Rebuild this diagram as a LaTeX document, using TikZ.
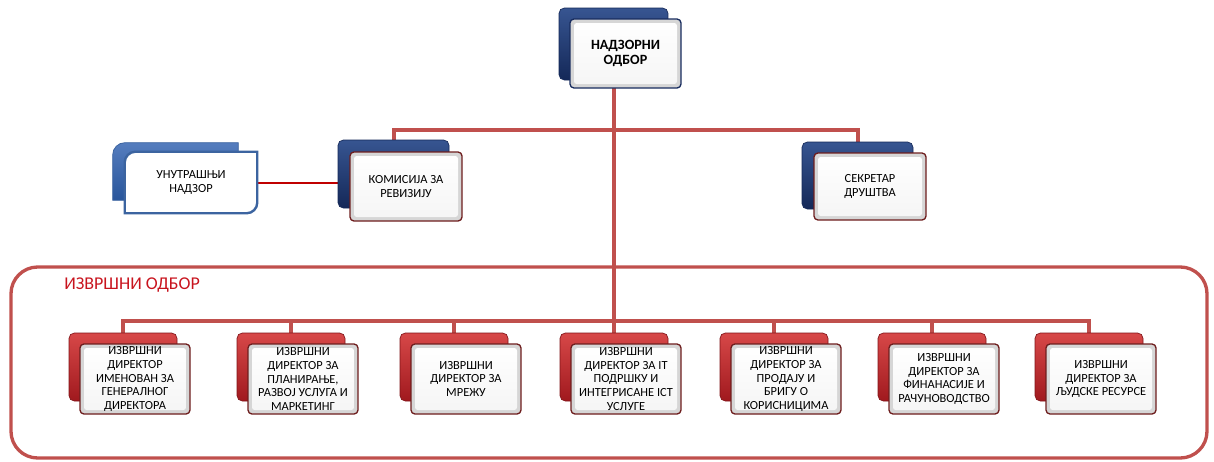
\documentclass[tikz,border=0pt]{standalone}
\usepackage{fontspec}
\setmainfont{Carlito}
\usetikzlibrary{calc,backgrounds}
\definecolor{linered}{RGB}{192,80,77}
\definecolor{darkline}{RGB}{192,0,0}
\definecolor{txtred}{RGB}{200,20,30}
\definecolor{navyA}{RGB}{55,85,145}
\definecolor{navyB}{RGB}{20,40,88}
\definecolor{redA}{RGB}{215,72,72}
\definecolor{redB}{RGB}{160,25,30}
\definecolor{frameRed}{RGB}{110,30,30}
\definecolor{frameNavy}{RGB}{25,45,95}
\definecolor{unBlueA}{RGB}{85,125,190}
\definecolor{unBlueB}{RGB}{40,85,155}
\definecolor{unBorder}{RGB}{60,100,160}
\newcommand\diagshape[3]{%
  \path[#2] let \p1=(#1.north west), \p2=(#1.south east) in
    (\x1,\y2) -- (\x1,\y1-#3) arc[start angle=180,end angle=90,radius=#3]
    -- (\x2,\y1) -- (\x2,\y2+#3) arc[start angle=0,end angle=-90,radius=#3] -- cycle;}
\begin{document}
\begin{tikzpicture}[x=0.75pt,y=-0.75pt,
  backnavy/.style={draw=navyB, line width=0.5pt, rounded corners=4pt, top color=navyA, bottom color=navyB, inner sep=0pt},
  backred/.style={draw=redB!80!black, line width=0.5pt, rounded corners=4pt, top color=redA, bottom color=redB, inner sep=0pt},
  bevel/.style={fill=gray!32, rounded corners=3pt, line width=1pt, inner sep=0pt, align=center,
    path picture={\shade[top color=white, bottom color=gray!8, rounded corners=2pt]
      ([shift={(3pt,-3pt)}]path picture bounding box.north west) rectangle
      ([shift={(-3pt,3pt)}]path picture bounding box.south east);}},
  frontnavy/.style={bevel, draw=frameNavy},
  frontred/.style={bevel, draw=frameRed},
  conn/.style={draw=linered, line width=3pt},
  smalltxt/.style={font=\fontsize{9.3}{10.4}\selectfont},
  midtxt/.style={font=\fontsize{9.3}{10}\selectfont},
  toptxt/.style={font=\bfseries\fontsize{10.6}{11.8}\selectfont},
  bsize/.style={minimum width=81pt, minimum height=51pt},
  fsize/.style={minimum width=82.5pt, minimum height=52.5pt}
]
\useasboundingbox (0,0) rectangle (1214,461);

% executive board frame
\node[draw=linered, line width=2.5pt, rounded corners=20pt, minimum width=897pt, minimum height=143.25pt, inner sep=0pt] (exec) at (609,362.5) {};
\node[anchor=west, text=txtred, font=\fontsize{13.5}{15}\selectfont, inner sep=0pt] (execlabel) at (64,285) {ИЗВРШНИ ОДБОР};

% top
\node[backnavy, minimum width=81.75pt, minimum height=54pt] (topB) at (613.5,44) {};
\node[frontnavy, toptxt, minimum width=83.25pt, minimum height=51.75pt] (topF) at (625.5,53.5) {НАДЗОРНИ\\ОДБОР};

% second level
\node[backnavy, minimum width=83.25pt, minimum height=51pt] (komB) at (393.5,174) {};
\node[frontred, midtxt, minimum width=84pt, minimum height=51.75pt] (komF) at (406,186.5) {КОМИСИЈА ЗА\\РЕВИЗИЈУ};
\node[backnavy, minimum width=83.25pt, minimum height=50.25pt] (sekB) at (857.5,175.5) {};
\node[frontred, midtxt, minimum width=84pt, minimum height=50.25pt] (sekF) at (870,186.5) {СЕКРЕТАР\\ДРУШТВА};

% internal control (shapes drawn on background layer)
\node[minimum width=93.75pt, minimum height=42.75pt, inner sep=0pt] (unB) at (175.5,171.5) {};
\node[midtxt, align=center, minimum width=99pt, minimum height=45.75pt, inner sep=0pt] (unF) at (191,182.5) {УНУТРАШЊИ\\НАДЗОР};

% executive directors
\node[backred, bsize] (e1B) at (123,367) {};
\node[frontred, fsize, smalltxt] (e1F) at (135,379) {ИЗВРШНИ\\ДИРЕКТОР\\ИМЕНОВАН ЗА\\ГЕНЕРАЛНОГ\\ДИРЕКТОРА};
\node[backred, bsize] (e2B) at (291,367) {};
\node[frontred, fsize, smalltxt] (e2F) at (303,379) {ИЗВРШНИ\\ДИРЕКТОР ЗА\\ПЛАНИРАЊЕ,\\РАЗВОЈ УСЛУГА И\\МАРКЕТИНГ};
\node[backred, bsize] (e3B) at (454,367) {};
\node[frontred, fsize, smalltxt] (e3F) at (466,379) {ИЗВРШНИ\\ДИРЕКТОР ЗА\\МРЕЖУ};
\node[backred, bsize] (e4B) at (614,367) {};
\node[frontred, fsize, smalltxt] (e4F) at (626,379) {ИЗВРШНИ\\ДИРЕКТОР ЗА IT\\ПОДРШКУ И\\ИНТЕГРИСАНЕ ICT\\УСЛУГЕ};
\node[backred, bsize] (e5B) at (774,367) {};
\node[frontred, fsize, smalltxt] (e5F) at (786,379) {ИЗВРШНИ\\ДИРЕКТОР ЗА\\ПРОДАЈУ И\\БРИГУ О\\КОРИСНИЦИМА};
\node[backred, bsize] (e6B) at (932,367) {};
\node[frontred, fsize, smalltxt] (e6F) at (944,379) {ИЗВРШНИ\\ДИРЕКТОР ЗА\\ФИНАНАСИЈЕ И\\РАЧУНОВОДСТВО};
\node[backred, bsize] (e7B) at (1089,367) {};
\node[frontred, fsize, smalltxt] (e7F) at (1101,379) {ИЗВРШНИ\\ДИРЕКТОР ЗА\\ЉУДСКЕ РЕСУРСЕ};

\coordinate (j1) at (613.5,130);
\coordinate (j2) at (613.5,321);

\begin{scope}[on background layer]
  \draw[conn] (topB.south) -- (j2);
  \draw[conn] (komB.north) -- (komB.north |- j1) -- (sekB.north |- j1) -- (sekB.north);
  \draw[conn] (e1B.north) -- (e1B.north |- j2) -- (e7B.north |- j2) -- (e7B.north);
  \foreach \n in {e2B,e3B,e4B,e5B,e6B} \draw[conn] (\n.north) -- (\n.north |- j2);
  \draw[draw=darkline, line width=1.5pt] (unF.east) -- (unF.east -| komB.west);
  \diagshape{unB}{top color=unBlueA, bottom color=unBlueB, draw=unBorder, line width=0.6pt}{9pt}
  \diagshape{unF}{fill=white, draw=unBorder, line width=1.8pt}{8pt}
\end{scope}
\end{tikzpicture}
\end{document}
